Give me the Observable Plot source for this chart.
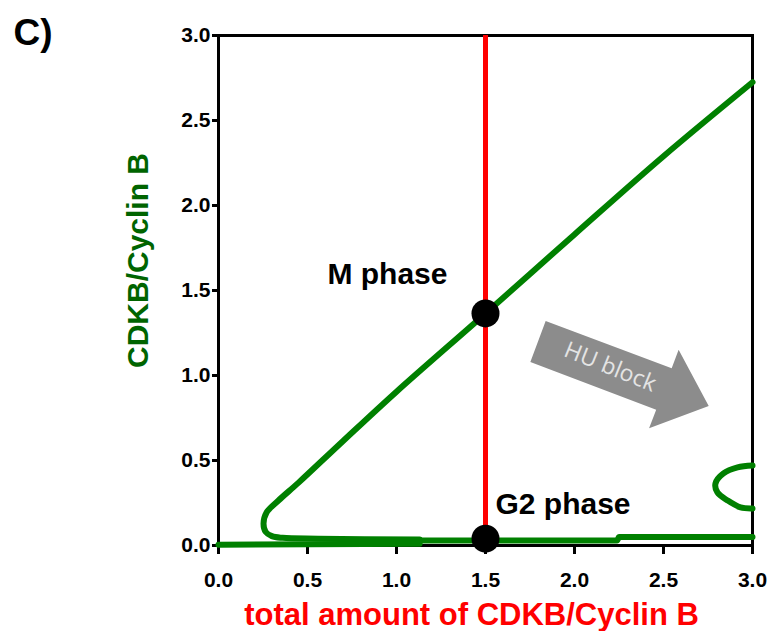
<!DOCTYPE html>
<html>
<head>
<meta charset="utf-8">
<script src="https://cdn.jsdelivr.net/npm/d3@7"></script>
<script src="https://cdn.jsdelivr.net/npm/@observablehq/plot@0.6"></script>
<style>
  html, body { margin: 0; padding: 0; background: #fff; }
  #chart { width: 772px; height: 631px; }
</style>
</head>
<body>
<div id="chart"></div>
<script>
// ---- data ----
const xTicks = [0, 0.5, 1.0, 1.5, 2.0, 2.5, 3.0];
const yTicks = [0, 0.5, 1.0, 1.5, 2.0, 2.5, 3.0];

// upper branch + left fold + middle branch (x, y)
const upperFold = [
  [3.0, 2.725], [2.5, 2.29], [2.0, 1.83], [1.5, 1.365], [1.0, 0.905],
  [0.7, 0.615], [0.45, 0.37], [0.337, 0.265], [0.27, 0.194],
  [0.253, 0.129], [0.265, 0.08], [0.3, 0.055], [0.36, 0.045], [0.56, 0.04], [1.13, 0.035]
];
// lower branch, slightly stepped
const lowerBranch = [[1.13, 0.03], [2.24, 0.03], [2.25, 0.05], [3.0, 0.05]];
// base branch along the x axis
const baseBranch = [[0, 0.005], [1.13, 0.01]];
// right fold (C shape at the right edge)
const rightFold = [
  [3.0, 0.47], [2.916, 0.459], [2.837, 0.424], [2.792, 0.365],
  [2.803, 0.312], [2.86, 0.265], [2.933, 0.224], [3.0, 0.218]
];

const totalCdkb = [1.5];                 // red vertical line
const phaseNames = ["M phase", "G2 phase"];
const phaseX = [1.5, 1.5];
const phaseY = [1.365, 0.04];
const phaseLabelX = [0.612, 1.556];
const phaseLabelY = [1.541, 0.188];

// HU block arrow polygon (data units)
const huArrow = [
  [1.838, 1.321], [2.546, 1.042], [2.585, 1.152], [2.754, 0.821],
  [2.419, 0.689], [2.459, 0.799], [1.752, 1.079], [1.838, 1.321]
];
const huLabel = [{x: 2.2, y: 1.05, text: "HU block"}];

// ---- build tables ----
const toPts = (arr, id) => arr.map(([x, y]) => ({x, y, id}));
const smoothCurves = [...toPts(upperFold, "u"), ...toPts(rightFold, "r")];
const straightCurves = [...toPts(lowerBranch, "l"), ...toPts(baseBranch, "b")];
const phases = phaseNames.map((name, i) => ({
  name, x: phaseX[i], y: phaseY[i], lx: phaseLabelX[i], ly: phaseLabelY[i]
}));
const arrowPts = huArrow.map(([x, y]) => ({x, y}));

const GREEN = "#008000";
const DARKGREEN = "#006400";

const chart = Plot.plot({
  width: 772,
  height: 631,
  marginLeft: 218,
  marginRight: 20,
  marginTop: 35,
  marginBottom: 86,
  style: {fontFamily: "'Liberation Sans', Arial, sans-serif", fontWeight: "bold", fontSize: "21px", background: "#fff"},
  x: {domain: [0, 3]},
  y: {domain: [0, 3]},
  marks: [
    Plot.frame({stroke: "black", strokeWidth: 3}),
    Plot.axisX({ticks: xTicks, tickFormat: d3.format(".1f"), tickSize: 9, tickPadding: 18,
                strokeWidth: 3, label: null, fontSize: 21, fontWeight: "bold"}),
    Plot.axisY({ticks: yTicks, tickFormat: d3.format(".1f"), tickSize: 6, tickPadding: 2,
                strokeWidth: 3, label: null, fontSize: 21, fontWeight: "bold"}),
    Plot.line(arrowPts, {x: "x", y: "y", fill: "#8c8c8c", stroke: "none"}),
    Plot.text(huLabel, {x: "x", y: "y", text: "text", rotate: 22, fill: "#e4e4e4",
                        fontSize: 23, fontWeight: "normal", fontFamily: "'Open Sans', sans-serif"}),
    Plot.line(straightCurves, {x: "x", y: "y", z: "id", stroke: GREEN, strokeWidth: 6}),
    Plot.line(smoothCurves, {x: "x", y: "y", z: "id", stroke: GREEN, strokeWidth: 6,
                             curve: "catmull-rom", strokeLinejoin: "round"}),
    Plot.ruleX(totalCdkb, {y1: 0, y2: 3, stroke: "red", strokeWidth: 5}),
    Plot.dot(phases, {x: "x", y: "y", r: 14, fill: "black", stroke: "none"}),
    Plot.text(phases, {x: "lx", y: "ly", text: "name", textAnchor: "start", lineAnchor: "bottom",
                       fontSize: 30, fontWeight: "bold", fill: "black"}),
    Plot.text(["C)"], {frameAnchor: "top-left", dx: -205, dy: -17, fontSize: 37, fontWeight: "bold", fill: "black"}),
    Plot.text(["CDKB/Cyclin B"], {frameAnchor: "left", rotate: -90, textAnchor: "middle", lineAnchor: "middle",
                                  dx: -80, dy: -30, fontSize: 30, fontWeight: "bold", fill: DARKGREEN}),
    Plot.text(["total amount of CDKB/Cyclin B"], {frameAnchor: "bottom", textAnchor: "middle", lineAnchor: "middle",
                                  dx: -14, dy: 70, fontSize: 31, fontWeight: "bold", fill: "red"})
  ]
});
document.getElementById("chart").appendChild(chart);
</script>
</body>
</html>
